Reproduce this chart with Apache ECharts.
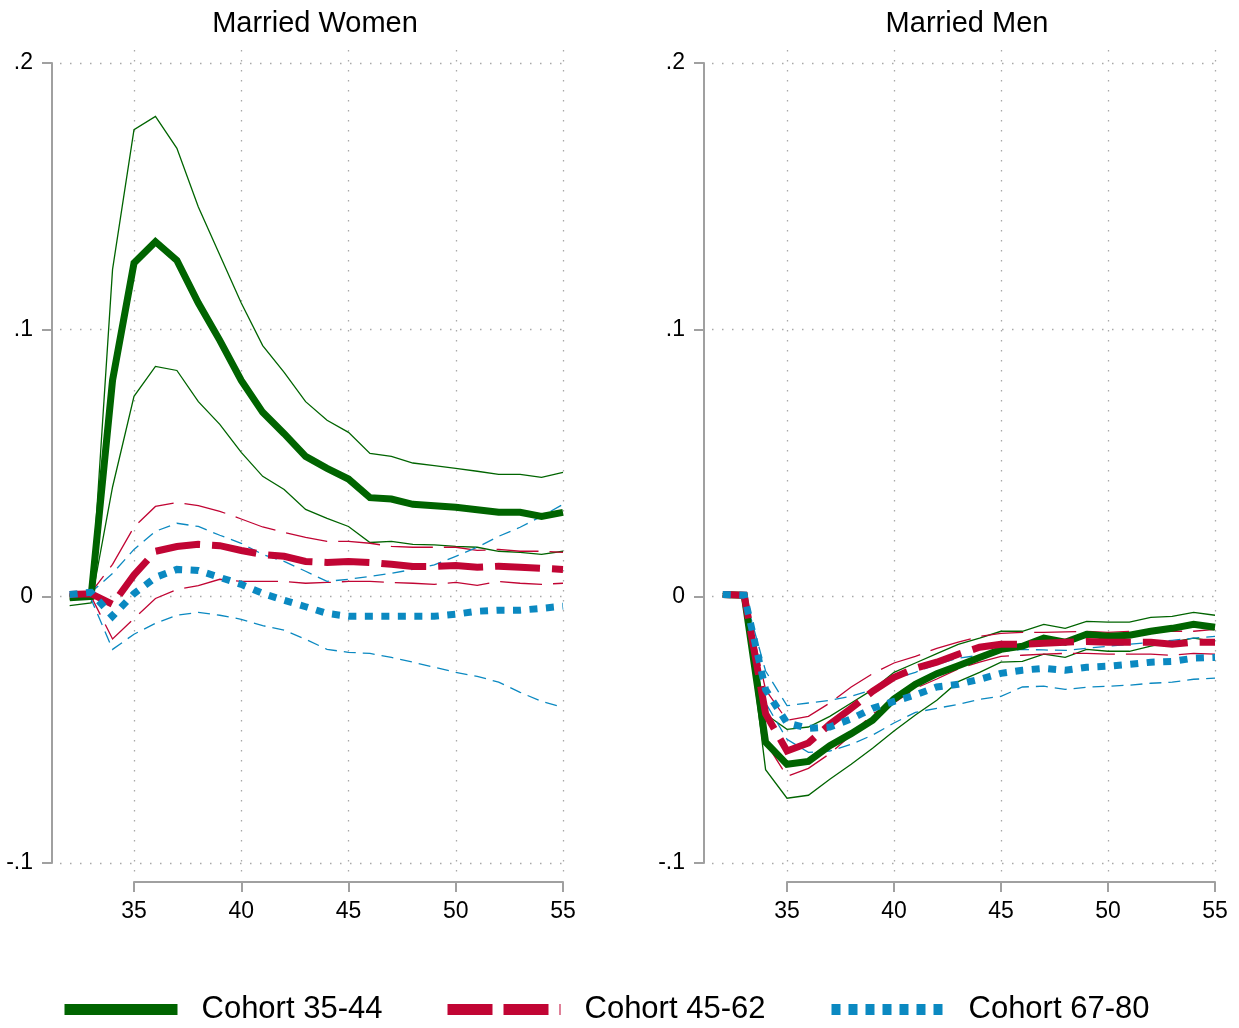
<!DOCTYPE html>
<html><head><meta charset="utf-8">
<script src="https://cdn.jsdelivr.net/npm/echarts@6/dist/echarts.min.js"></script>
<style>html,body{margin:0;padding:0;background:#fff}#c{width:1239px;height:1028px}</style>
</head><body><div id="c"></div>
<script>
// ---------- DATA ----------
const ages = [32,33,34,35,36,37,38,39,40,41,42,43,44,45,46,47,48,49,50,51,52,53,54,55];

// Married Women
const womenEst3544 = [-0.0005,0.0,0.081,0.125,0.133,0.126,0.110,0.096,0.081,0.069,0.061,0.0525,0.048,0.044,0.037,0.0365,0.0345,0.034,0.0334,0.0325,0.0315,0.0315,0.030,0.0315];
const womenHi3544  = [-0.001,-0.0005,0.1226,0.175,0.180,0.168,0.146,0.128,0.110,0.094,0.084,0.073,0.066,0.0615,0.0536,0.0525,0.050,0.049,0.048,0.0469,0.0457,0.0457,0.0446,0.0465];
const womenLo3544  = [-0.0035,-0.0025,0.041,0.075,0.0862,0.0847,0.073,0.0645,0.054,0.045,0.0401,0.0326,0.0292,0.0262,0.0202,0.0206,0.0195,0.0193,0.0187,0.0184,0.0169,0.0165,0.0157,0.0169];
const womenEst4562 = [0.0007,0.001,-0.003,0.008,0.0169,0.0187,0.0195,0.019,0.0172,0.0157,0.015,0.0131,0.0127,0.0131,0.0127,0.012,0.0112,0.0112,0.0116,0.0109,0.0113,0.0109,0.0105,0.0101];
const womenHi4562  = [0.001,0.0015,0.012,0.026,0.0337,0.0352,0.034,0.0319,0.029,0.026,0.024,0.0221,0.0206,0.0206,0.0199,0.0187,0.0184,0.0184,0.0184,0.0172,0.0176,0.0169,0.0169,0.0165];
const womenLo4562  = [0.0005,0.0,-0.016,-0.0083,-0.0008,0.0026,0.004,0.0064,0.0056,0.0056,0.0056,0.0049,0.0052,0.0056,0.0056,0.0052,0.0049,0.0045,0.0052,0.0041,0.0056,0.0049,0.0045,0.0049];
const womenEst6780 = [0.0007,0.0015,-0.0075,0.001,0.0071,0.0101,0.0097,0.0071,0.0045,0.0011,-0.0015,-0.0039,-0.0064,-0.0075,-0.0075,-0.0075,-0.0075,-0.0075,-0.0067,-0.0056,-0.0052,-0.0052,-0.0045,-0.0037];
const womenHi6780  = [0.001,0.0015,0.0086,0.0176,0.0244,0.0274,0.0262,0.0229,0.0199,0.0157,0.0131,0.0094,0.0056,0.0064,0.0075,0.0086,0.0101,0.0118,0.015,0.0184,0.0225,0.0259,0.030,0.0345];
const womenLo6780  = [0.0,-0.001,-0.0199,-0.0142,-0.0101,-0.0071,-0.006,-0.0071,-0.0086,-0.011,-0.0127,-0.0161,-0.0199,-0.021,-0.0214,-0.0229,-0.0247,-0.0266,-0.0285,-0.030,-0.0322,-0.036,-0.0394,-0.0416];

// Married Men
const menEst3544 = [0.0007,0.0004,-0.0547,-0.063,-0.0619,-0.056,-0.0515,-0.0465,-0.0385,-0.033,-0.029,-0.026,-0.0229,-0.0199,-0.0187,-0.0157,-0.0172,-0.0142,-0.015,-0.0146,-0.0131,-0.012,-0.0105,-0.0116];
const menHi3544  = [0.001,0.0008,-0.0442,-0.0499,-0.049,-0.045,-0.040,-0.035,-0.0285,-0.025,-0.0215,-0.018,-0.0157,-0.0131,-0.0131,-0.0105,-0.012,-0.0094,-0.0097,-0.0097,-0.0079,-0.0075,-0.006,-0.0071];
const menLo3544  = [0.0002,0.0,-0.065,-0.0757,-0.0746,-0.0686,-0.063,-0.057,-0.0505,-0.0445,-0.039,-0.032,-0.0285,-0.0247,-0.0244,-0.0217,-0.0229,-0.0199,-0.0206,-0.0206,-0.0187,-0.0172,-0.0157,-0.0169];
const menEst4562 = [0.0007,0.0004,-0.044,-0.058,-0.055,-0.048,-0.042,-0.0356,-0.0304,-0.027,-0.0247,-0.0217,-0.0191,-0.018,-0.018,-0.0176,-0.0172,-0.0169,-0.0172,-0.0172,-0.0172,-0.018,-0.0172,-0.0172];
const menHi4562  = [0.001,0.0008,-0.035,-0.0465,-0.045,-0.040,-0.034,-0.029,-0.025,-0.0225,-0.0195,-0.0172,-0.015,-0.0139,-0.0135,-0.0135,-0.0133,-0.0131,-0.0135,-0.0131,-0.0131,-0.0131,-0.0131,-0.0124];
const menLo4562  = [0.0003,0.0,-0.0547,-0.0675,-0.0645,-0.059,-0.052,-0.044,-0.040,-0.0345,-0.031,-0.0272,-0.0247,-0.0225,-0.0221,-0.0217,-0.0214,-0.0214,-0.0217,-0.0217,-0.0217,-0.0221,-0.0214,-0.0217];
const menEst6780 = [0.0007,0.0004,-0.035,-0.0475,-0.0495,-0.049,-0.046,-0.042,-0.0394,-0.037,-0.034,-0.033,-0.0311,-0.0289,-0.0277,-0.027,-0.0277,-0.0266,-0.0262,-0.0255,-0.0247,-0.0244,-0.0232,-0.0229];
const menHi6780  = [0.001,0.0008,-0.028,-0.041,-0.040,-0.039,-0.0375,-0.035,-0.031,-0.0285,-0.0255,-0.0232,-0.0221,-0.0206,-0.0199,-0.0201,-0.0203,-0.0195,-0.0187,-0.018,-0.0172,-0.0165,-0.0157,-0.015];
const menLo6780  = [0.0003,0.0,-0.040,-0.0536,-0.0585,-0.058,-0.0555,-0.052,-0.0475,-0.0435,-0.042,-0.0405,-0.0386,-0.0375,-0.034,-0.0337,-0.0349,-0.0341,-0.0337,-0.0333,-0.0326,-0.0322,-0.0311,-0.0307];

const panelTitles = ['Married Women', 'Married Men'];
const cohortNames = ['Cohort 35-44', 'Cohort 45-62', 'Cohort 67-80'];
const yTicks = [-0.1, 0, 0.1, 0.2];
const yTickLabels = ['-.1', '0', '.1', '.2'];
const xTicks = [35, 40, 45, 50, 55];
const xTickLabels = ['35', '40', '45', '50', '55'];

// ---------- STYLE / LAYOUT ----------
const FONT = '"Liberation Sans", Arial, Helvetica, sans-serif';
const COLORS = ['#006400', '#C10534', '#0B89C1'];
const THICK_TYPES = ['solid', [45, 12], [8, 8.5]];
const THIN_TYPES = ['solid', [42, 11], [12, 7]];
const LEGEND_TYPES = ['solid', [45, 11], [9, 8]];
const AXIS_COLOR = '#a0a0a0';
const GRID_COLOR = '#a8a8a8';

const panelData = [
  { est: [womenEst3544, womenEst4562, womenEst6780], hi: [womenHi3544, womenHi4562, womenHi6780], lo: [womenLo3544, womenLo4562, womenLo6780] },
  { est: [menEst3544, menEst4562, menEst6780], hi: [menHi3544, menHi4562, menHi6780], lo: [menLo3544, menLo4562, menLo6780] }
];
// x35 / x55: pixel positions of the first and last x tick
const panelLayout = [
  { x35: 134, x55: 563, axisX: 52, gridLeft: 60, gridRight: 570, titleX: 315 },
  { x35: 787, x55: 1215, axisX: 704, gridLeft: 712, gridRight: 1222, titleX: 967 }
];
const TOP = 63, HEIGHT = 800, XAXIS_Y = 882, VTOP = 50, VBOTTOM = 872;
const X_MIN = 35, X_MAX = 55, DATA_X_MIN = 31;

function yFmt(v) { const i = yTicks.findIndex(t => Math.abs(t - v) < 1e-9); return i >= 0 ? yTickLabels[i] : ''; }
function xFmt(v) { const i = xTicks.findIndex(t => Math.abs(t - v) < 1e-9); return i >= 0 ? xTickLabels[i] : ''; }

const grid = [], xAxis = [], yAxis = [], series = [], title = [];
const axisLineStyle = { color: AXIS_COLOR, width: 2 };
const dotted = { type: [1.5, 8.5], color: GRID_COLOR, width: 1.3 };
const labelStyle = { fontSize: 23, fontFamily: FONT, color: '#000' };

panelLayout.forEach((L, p) => {
  const g0 = grid.length;
  const pxPerUnit = (L.x55 - L.x35) / (X_MAX - X_MIN);
  // grid 0: horizontal gridlines + y axis
  grid.push({ left: L.gridLeft, width: L.gridRight - L.gridLeft, top: TOP, height: HEIGHT });
  xAxis.push({ gridIndex: g0, type: 'value', min: 0, max: 1, show: false });
  yAxis.push({ gridIndex: g0, type: 'value', min: -0.1, max: 0.2, interval: 0.1,
    offset: L.gridLeft - L.axisX,
    axisLine: { show: true, onZero: false, lineStyle: axisLineStyle },
    axisTick: { show: true, length: 10, lineStyle: axisLineStyle },
    axisLabel: Object.assign({ show: true, margin: 19, formatter: yFmt }, labelStyle),
    splitLine: { show: true, lineStyle: dotted } });
  // grid 1: vertical gridlines + x axis
  grid.push({ left: L.x35, width: L.x55 - L.x35, top: VTOP, height: VBOTTOM - VTOP });
  xAxis.push({ gridIndex: g0 + 1, type: 'value', min: X_MIN, max: X_MAX, interval: 5,
    offset: XAXIS_Y - VBOTTOM,
    axisLine: { show: true, onZero: false, lineStyle: axisLineStyle },
    axisTick: { show: true, length: 10, lineStyle: axisLineStyle },
    axisLabel: Object.assign({ show: true, margin: 18, formatter: xFmt }, labelStyle),
    splitLine: { show: true, lineStyle: dotted } });
  yAxis.push({ gridIndex: g0 + 1, type: 'value', min: 0, max: 1, show: false });
  // grid 2: data (x from DATA_X_MIN to X_MAX, same pixel scale)
  const dataLeft = L.x35 - (X_MIN - DATA_X_MIN) * pxPerUnit;
  grid.push({ left: dataLeft, width: L.x55 - dataLeft, top: TOP, height: HEIGHT });
  xAxis.push({ gridIndex: g0 + 2, type: 'value', min: DATA_X_MIN, max: X_MAX, show: false,
    axisLine: { onZero: false }, splitLine: { show: false } });
  yAxis.push({ gridIndex: g0 + 2, type: 'value', min: -0.1, max: 0.2, show: false,
    axisLine: { onZero: false }, splitLine: { show: false } });

  title.push({ text: panelTitles[p], left: L.titleX, top: 9, textAlign: 'center', padding: 0,
    textStyle: { fontFamily: FONT, fontSize: 29, fontWeight: 'normal', color: '#000' } });

  const D = panelData[p];
  const pairs = arr => ages.map((a, i) => [a, arr[i]]);
  for (let c = 0; c < 3; c++) {
    [['hi', D.hi[c]], ['lo', D.lo[c]]].forEach(([k, arr]) => {
      series.push({ type: 'line', name: cohortNames[c] + ' ' + k, xAxisIndex: g0 + 2, yAxisIndex: g0 + 2,
        data: pairs(arr), symbol: 'none', clip: false, silent: true, animation: false,
        lineStyle: { color: COLORS[c], width: 1.3, type: THIN_TYPES[c], cap: 'butt', join: 'miter' } });
    });
  }
  for (let c = 0; c < 3; c++) {
    series.push({ type: 'line', name: cohortNames[c], xAxisIndex: g0 + 2, yAxisIndex: g0 + 2,
      data: pairs(D.est[c]), symbol: 'none', clip: false, silent: true, animation: false,
      itemStyle: { color: COLORS[c] },
      lineStyle: { color: COLORS[c], width: 7, type: THICK_TYPES[c], cap: 'butt', join: 'miter' } });
  }
});

const legendLefts = [59, 442, 826];
const legend = cohortNames.map((n, c) => ({
  left: legendLefts[c], top: 994, padding: 0, selectedMode: false,
  data: [{ name: n }], itemWidth: 113, itemHeight: 11,
  itemStyle: { opacity: 0 },
  lineStyle: { width: 11, type: LEGEND_TYPES[c], cap: 'butt', color: COLORS[c] },
  textStyle: { fontFamily: FONT, fontSize: 31, color: '#000', padding: [0, 0, 0, 19] }
}));

const chart = echarts.init(document.getElementById('c'), null, { renderer: 'canvas' });
chart.setOption({ animation: false, backgroundColor: '#fff', title, grid, xAxis, yAxis, series, legend });
</script></body></html>
